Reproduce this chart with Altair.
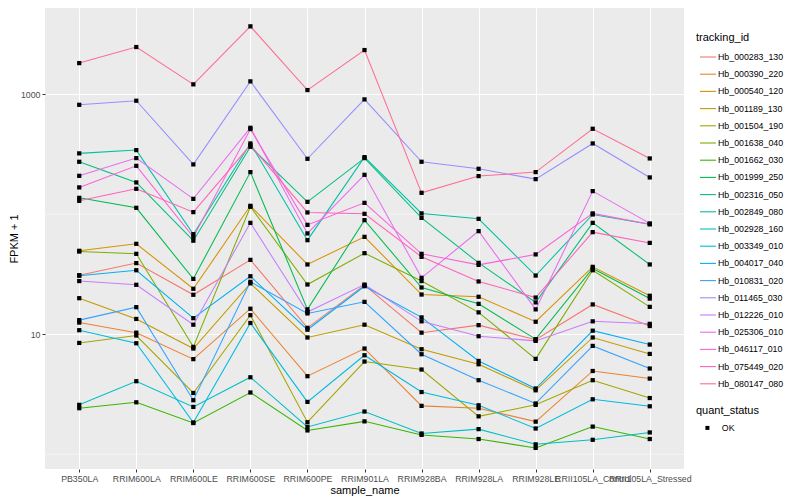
import altair as alt
import pandas as pd

samples = ["PB350LA", "RRIM600LA", "RRIM600LE", "RRIM600SE", "RRIM600PE", "RRIM901LA",
           "RRIM928BA", "RRIM928LA", "RRIM928LE", "RRII105LA_Control", "RRII105LA_Stressed"]

tracking_ids = ["Hb_000283_130", "Hb_000390_220", "Hb_000540_120", "Hb_001189_130",
                "Hb_001504_190", "Hb_001638_040", "Hb_001662_030", "Hb_001999_250",
                "Hb_002316_050", "Hb_002849_080", "Hb_002928_160", "Hb_003349_010",
                "Hb_004017_040", "Hb_010831_020", "Hb_011465_030", "Hb_012226_010",
                "Hb_025306_010", "Hb_046117_010", "Hb_075449_020", "Hb_080147_080"]

palette = ["#F8766D", "#EA8331", "#D89000", "#C09B00", "#A3A500", "#7CAE00", "#39B600",
           "#00BB4E", "#00BF7D", "#00C1A3", "#00BFC4", "#00BAE0", "#00B0F6", "#35A2FF",
           "#9590FF", "#C77CFF", "#E76BF3", "#FA62DB", "#FF62BC", "#FF6C91"]

# FPKM + 1 per sample (same order as samples)
hb_000283_130 = [31.0, 39.1, 21.3, 41.6, 11.3, 25.6, 10.3, 11.9, 9.0, 17.7, 11.7]
hb_000390_220 = [12.5, 10.3, 6.2, 16.3, 4.47, 7.6, 2.53, 2.42, 1.87, 4.94, 4.27]
hb_000540_120 = [49.5, 56.6, 23.9, 117.3, 38.1, 64.7, 21.4, 20.5, 12.7, 36.4, 20.9]
hb_001189_130 = [19.95, 13.4, 7.6, 26.5, 9.39, 12.0, 7.5, 5.62, 3.41, 9.39, 6.85]
hb_001504_190 = [8.46, 9.75, 3.24, 14.4, 1.85, 5.92, 5.08, 2.07, 2.58, 4.14, 2.94]
hb_001638_040 = [48.8, 46.7, 7.84, 115.1, 25.95, 47.3, 27.7, 15.2, 6.23, 34.1, 16.9]
hb_001662_030 = [2.42, 2.71, 1.82, 3.27, 1.58, 1.88, 1.45, 1.34, 1.13, 1.70, 1.34]
hb_001999_250 = [136.7, 112.9, 28.9, 223.9, 16.1, 89.1, 24.5, 17.9, 9.09, 35.3, 19.8]
hb_002316_050 = [273.0, 183.7, 60.1, 363.8, 126.6, 292.9, 93.1, 39.3, 18.4, 84.6, 38.1]
hb_002849_080 = [320.6, 341.5, 68.1, 388.0, 60.7, 298.5, 101.4, 91.4, 30.8, 99.4, 82.5]
hb_002928_160 = [2.58, 4.06, 2.48, 4.38, 1.69, 2.27, 1.49, 1.62, 1.21, 1.32, 1.52]
hb_003349_010 = [10.8, 8.41, 1.84, 12.4, 2.73, 6.68, 3.30, 2.56, 1.64, 2.87, 2.51]
hb_004017_040 = [30.7, 34.1, 13.6, 30.4, 10.9, 25.1, 13.8, 5.99, 3.53, 10.7, 8.2]
hb_010831_020 = [13.1, 16.8, 2.82, 27.3, 14.9, 18.6, 6.81, 4.14, 2.65, 7.99, 5.18]
hb_011465_030 = [814.0, 880.0, 259.5, 1276.0, 289.0, 903.0, 273.0, 238.6, 195.8, 388.0, 202.2]
hb_012226_010 = [27.7, 25.8, 12.0, 84.6, 15.3, 25.9, 12.8, 9.62, 8.8, 12.8, 12.2]
hb_025306_010 = [208.5, 292.9, 134.1, 524.0, 69.1, 212.6, 29.5, 72.2, 16.1, 155.5, 83.7]
hb_046117_010 = [167.0, 252.6, 64.3, 510.9, 81.4, 124.2, 46.7, 37.8, 46.2, 101.4, 82.5]
hb_075449_020 = [129.1, 162.5, 103.9, 375.8, 103.3, 100.6, 44.1, 27.5, 20.2, 70.8, 57.6]
hb_080147_080 = [1811.0, 2465.0, 1205.0, 3665.0, 1080.0, 2326.0, 150.5, 207.4, 223.9, 514.0, 291.0]

series = [hb_000283_130, hb_000390_220, hb_000540_120, hb_001189_130, hb_001504_190,
          hb_001638_040, hb_001662_030, hb_001999_250, hb_002316_050, hb_002849_080,
          hb_002928_160, hb_003349_010, hb_004017_040, hb_010831_020, hb_011465_030,
          hb_012226_010, hb_025306_010, hb_046117_010, hb_075449_020, hb_080147_080]

major_breaks = [10, 1000]
minor_breaks = [1, 100]

rows = []
for tid, vals in zip(tracking_ids, series):
    for s, v in zip(samples, vals):
        rows.append({"tracking_id": tid, "sample_name": s, "fpkm1": v, "quant_status": "OK"})
df = pd.DataFrame(rows)
minor_df = pd.DataFrame({"fpkm1": minor_breaks})

FONT = "Liberation Sans"

y_scale = alt.Scale(type="log", domain=[0.754, 5210], nice=False, zero=False)
y_axis = alt.Axis(title="FPKM + 1", values=major_breaks, format="d",
                  labelFontSize=8.8, labelColor="#4D4D4D", labelPadding=2,
                  tickColor="#333333", tickSize=3, tickWidth=1,
                  domain=False, grid=True, gridColor="white", gridWidth=1.07,
                  titleFontSize=11, titleFontWeight="normal", titleColor="black",
                  titlePadding=1)
x_axis = alt.Axis(title="sample_name", labelAngle=0, labelOverlap=False,
                  labelFontSize=8.8, labelColor="#4D4D4D", labelPadding=2,
                  tickColor="#333333", tickSize=3, tickWidth=1,
                  domain=False, grid=True, gridColor="white", gridWidth=1.07,
                  titleFontSize=11, titleFontWeight="normal", titleColor="black",
                  titlePadding=2)
x_scale = alt.Scale(type="point", padding=0.6)

minor = alt.Chart(minor_df).mark_rule(color="white", strokeWidth=0.53).encode(
    y=alt.Y("fpkm1:Q", scale=y_scale, axis=y_axis)
)

lines = alt.Chart(df).mark_line(strokeWidth=1.05).encode(
    x=alt.X("sample_name:N", sort=samples, scale=x_scale, axis=x_axis),
    y=alt.Y("fpkm1:Q", scale=y_scale, axis=y_axis),
    color=alt.Color("tracking_id:N",
                    scale=alt.Scale(domain=tracking_ids, range=palette),
                    legend=alt.Legend(title="tracking_id", orient="none",
                                      legendX=651, legendY=24,
                                      symbolType="stroke", symbolSize=256,
                                      symbolStrokeWidth=1.1, symbolOffset=3,
                                      labelOffset=1, rowPadding=3.2, padding=0,
                                      titleFontSize=11, titleFontWeight="normal",
                                      titleColor="black", titlePadding=5,
                                      labelFontSize=8.8, labelColor="black")),
    detail="tracking_id:N",
)

points = alt.Chart(df).mark_point(filled=True, size=18, opacity=1, color="black").encode(
    x=alt.X("sample_name:N", sort=samples, scale=x_scale, axis=x_axis),
    y=alt.Y("fpkm1:Q", scale=y_scale, axis=y_axis),
    shape=alt.Shape("quant_status:N",
                    scale=alt.Scale(domain=["OK"], range=["square"]),
                    legend=alt.Legend(title="quant_status", orient="none",
                                      legendX=651, legendY=397,
                                      symbolSize=16, symbolFillColor="black",
                                      symbolStrokeColor="black", symbolOffset=7,
                                      labelOffset=10, padding=0,
                                      titleFontSize=11, titleFontWeight="normal",
                                      titleColor="black", titlePadding=7.5,
                                      labelFontSize=8.8, labelColor="black")),
)

chart = alt.layer(minor, lines, points).properties(
    width=639, height=461,
    autosize=alt.AutoSizeParams(type="none"),
    padding={"left": 37, "top": 0, "right": 108, "bottom": 29},
).configure(font=FONT).configure_view(fill="#EBEBEB", stroke=None)

chart.save("out.html", embed_options={"renderer": "svg", "actions": False})
